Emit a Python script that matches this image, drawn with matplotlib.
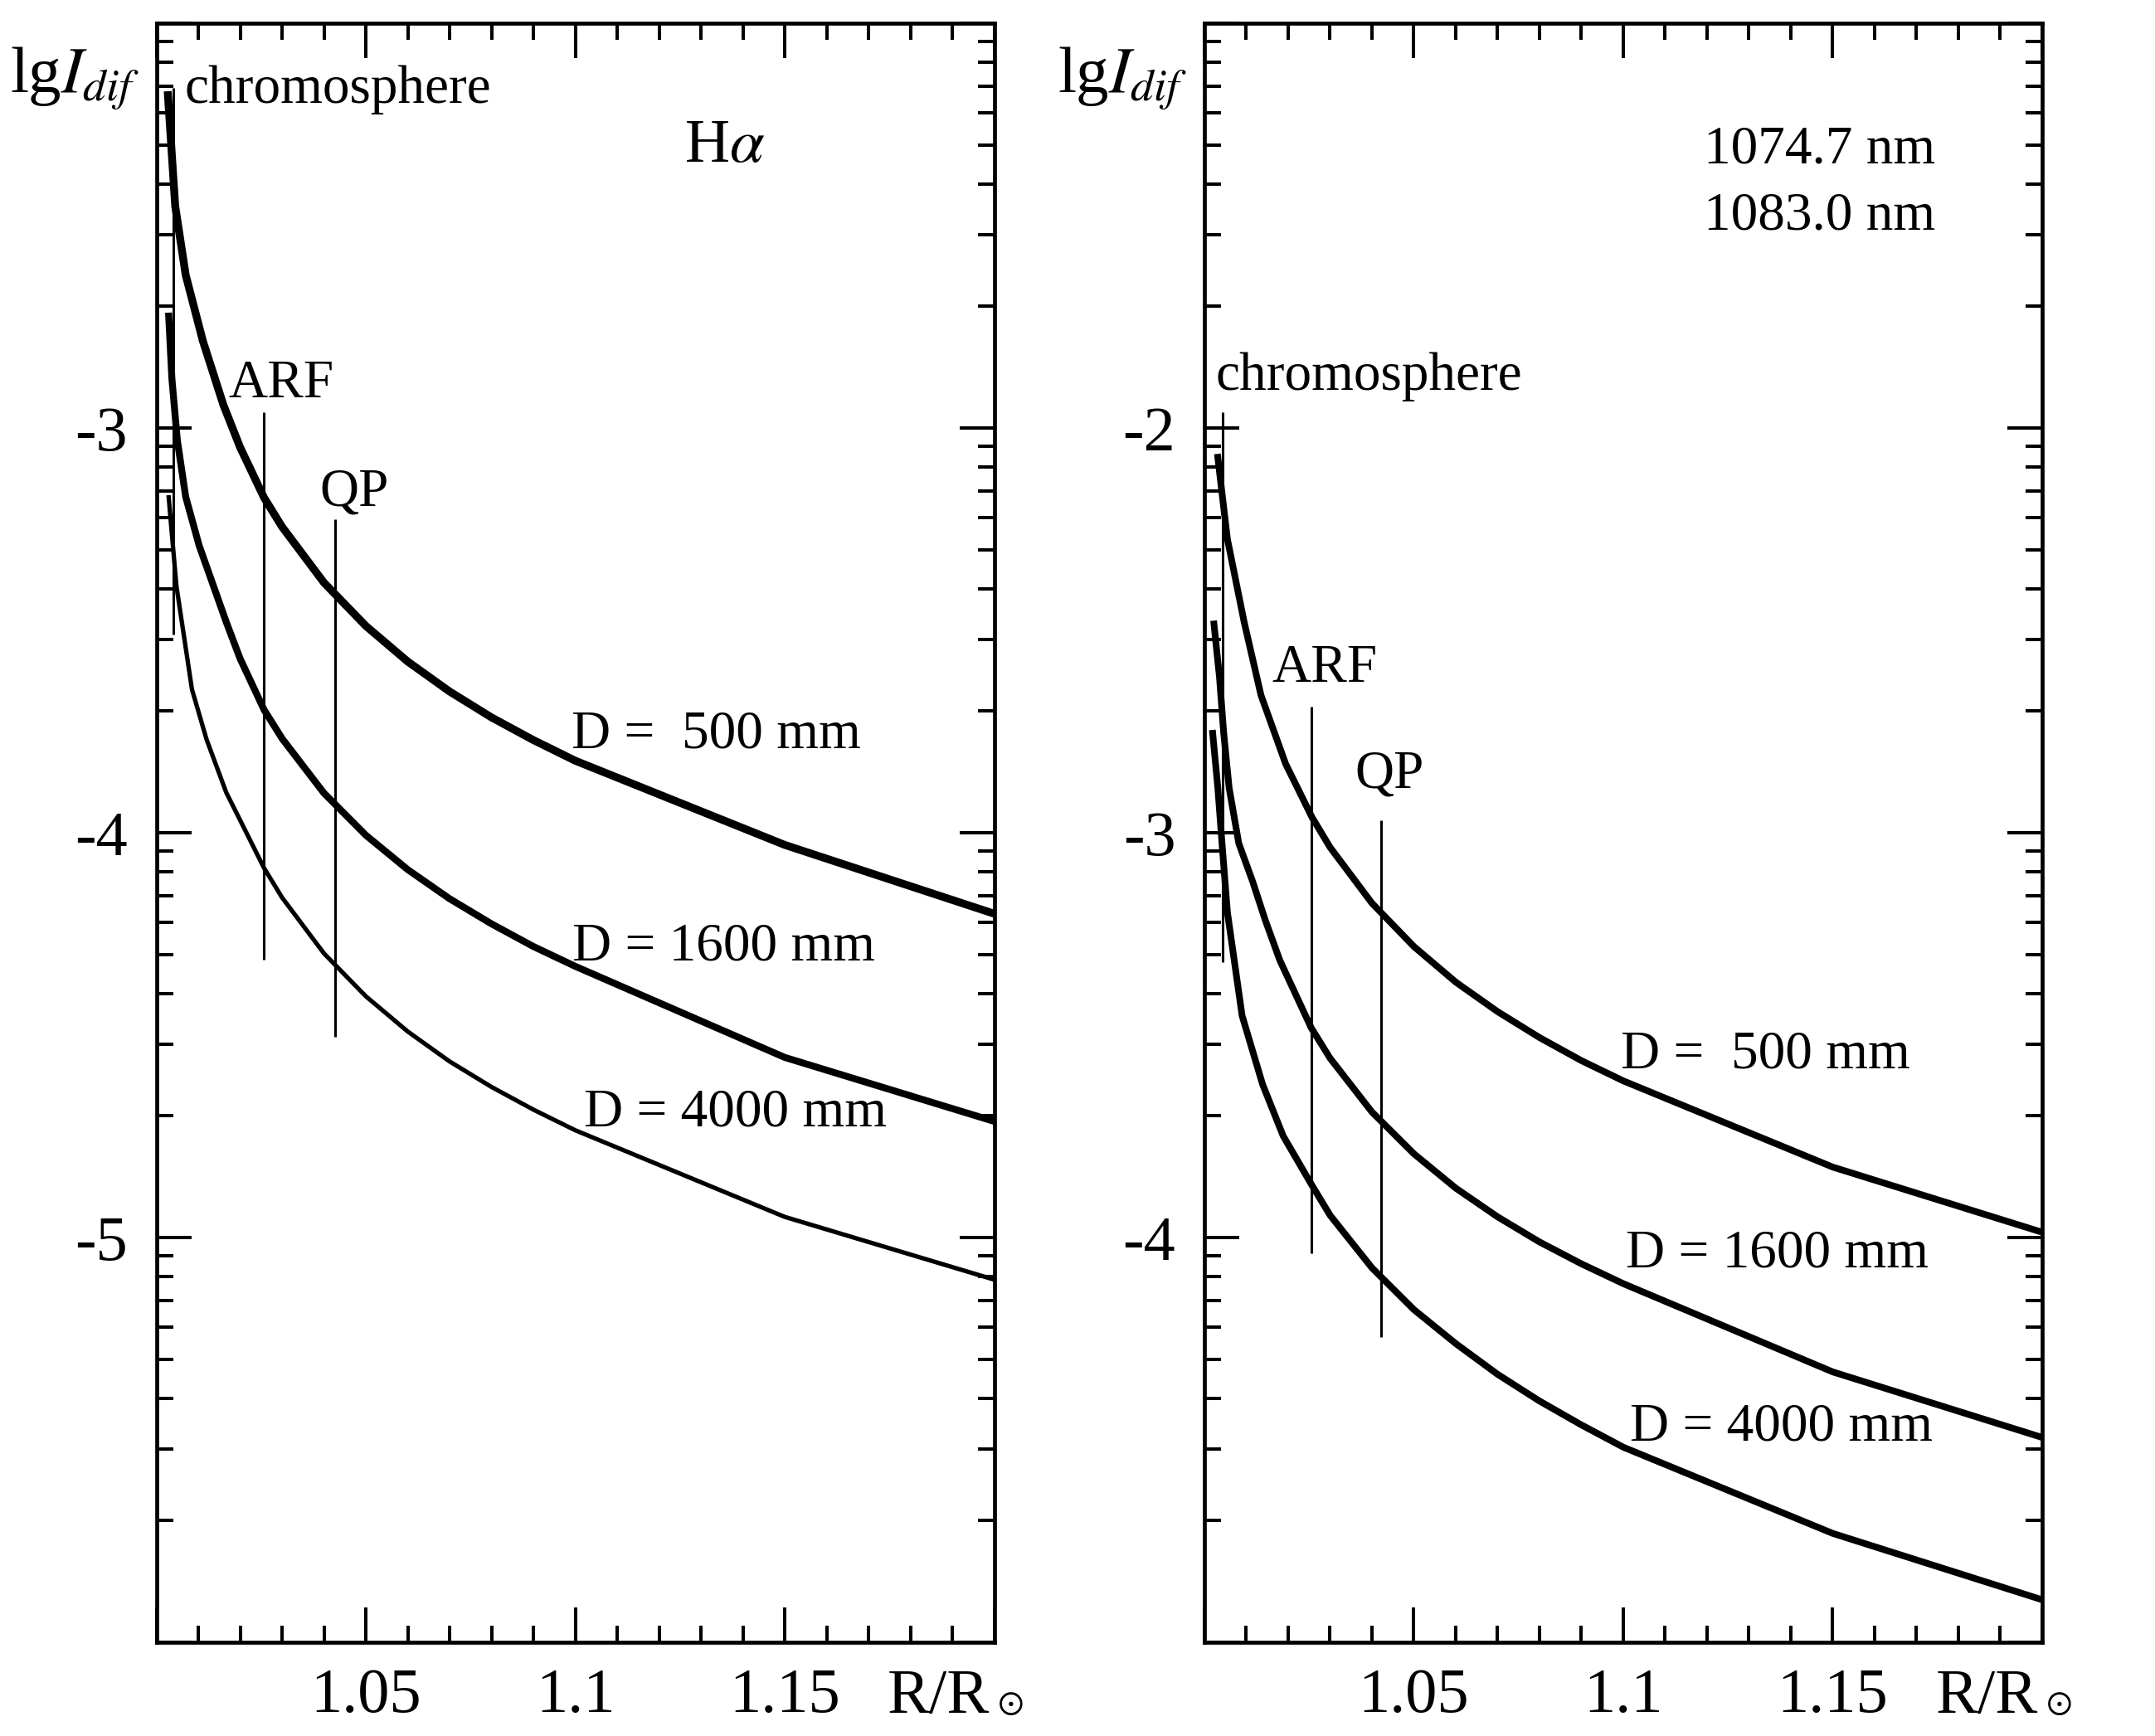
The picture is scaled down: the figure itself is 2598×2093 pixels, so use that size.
import numpy as np
import matplotlib
matplotlib.use('Agg')
import matplotlib.pyplot as plt
from matplotlib import rc
from matplotlib.ticker import LogLocator, MultipleLocator, NullFormatter

TICK_SIZE = 55
TEXT_SIZE = 47
LABEL_SIZE = 57
SERIF = 'Liberation Serif'

rc('font', family=[SERIF, 'DejaVu Serif'])
rc('mathtext', fontset='stix')

# --- H-alpha panel: lg I_dif vs R/Rsun ---
ha_r_500 = [1.0027, 1.0045, 1.0070, 1.0111, 1.0160, 1.0200, 1.0257, 1.030, 1.040, 1.050,
            1.060, 1.070, 1.080, 1.090, 1.100, 1.150, 1.200]
ha_lg_500 = [-2.168, -2.452, -2.622, -2.785, -2.943, -3.048, -3.172, -3.244, -3.382, -3.489,
             -3.577, -3.651, -3.715, -3.771, -3.822, -4.030, -4.200]
ha_r_1600 = [1.0029, 1.0037, 1.0050, 1.0070, 1.0102, 1.0167, 1.0200, 1.0257, 1.030, 1.040,
             1.050, 1.060, 1.070, 1.080, 1.090, 1.100, 1.150, 1.200]
ha_lg_1600 = [-2.715, -2.877, -3.030, -3.170, -3.290, -3.480, -3.570, -3.696, -3.767, -3.902,
              -4.006, -4.091, -4.163, -4.225, -4.281, -4.330, -4.555, -4.713]
ha_r_4000 = [1.0029, 1.0036, 1.0048, 1.0085, 1.0120, 1.0167, 1.0200, 1.0257, 1.030, 1.040,
             1.050, 1.060, 1.070, 1.080, 1.090, 1.100, 1.150, 1.200]
ha_lg_4000 = [-3.166, -3.250, -3.391, -3.646, -3.770, -3.901, -3.969, -4.087, -4.160, -4.298,
              -4.404, -4.491, -4.565, -4.628, -4.684, -4.735, -4.949, -5.104]

# --- 1074.7 / 1083.0 nm panel ---
ir_r_500 = [1.0031, 1.0055, 1.0095, 1.0135, 1.0194, 1.0257, 1.030, 1.040, 1.050, 1.060,
            1.070, 1.080, 1.090, 1.100, 1.150, 1.200]
ir_lg_500 = [-2.064, -2.275, -2.480, -2.660, -2.830, -2.962, -3.036, -3.174, -3.281, -3.369,
             -3.442, -3.506, -3.563, -3.613, -3.826, -3.987]
ir_r_1600 = [1.0022, 1.0036, 1.0046, 1.0059, 1.0082, 1.0115, 1.0145, 1.0180, 1.0255, 1.030,
             1.040, 1.050, 1.060, 1.070, 1.080, 1.090, 1.100, 1.150, 1.200]
ir_lg_1600 = [-2.476, -2.616, -2.753, -2.889, -3.026, -3.120, -3.215, -3.315, -3.482, -3.557,
              -3.690, -3.793, -3.878, -3.949, -4.011, -4.065, -4.114, -4.332, -4.494]
ir_r_4000 = [1.0019, 1.0032, 1.0042, 1.0055, 1.0090, 1.0139, 1.0188, 1.0255, 1.030, 1.040,
             1.050, 1.060, 1.070, 1.080, 1.090, 1.100, 1.150, 1.200]
ir_lg_4000 = [-2.746, -2.889, -3.026, -3.197, -3.452, -3.622, -3.749, -3.868, -3.945, -4.075,
              -4.178, -4.262, -4.338, -4.404, -4.463, -4.518, -4.731, -4.895]

# marker lines: (r, lg top, lg bottom)
ha_marks = {'chromosphere': (1.0041, -2.159, -3.51),
            'ARF': (1.0257, -2.962, -4.313),
            'QP': (1.0426, -3.225, -4.504)}
ir_marks = {'chromosphere': (1.0043, -1.961, -3.32),
            'ARF': (1.0256, -2.689, -4.038),
            'QP': (1.0421, -2.969, -4.246)}

x_ticks = [1.0, 1.05, 1.1, 1.15, 1.2]
x_labels = ['', '1.05', '1.1', '1.15', '']
ha_y_ticks = [-6, -5, -4, -3, -2]
ha_y_labels = ['', '-5', '-4', '-3', '']
ir_y_ticks = [-5, -4, -3, -2, -1]
ir_y_labels = ['', '-4', '-3', '-2', '']


def setup_axes(ax, y_ticks, y_labels):
    ax.set_yscale('log')
    ax.set_xlim(1.0, 1.2)
    ax.set_ylim(10.0 ** y_ticks[0], 10.0 ** y_ticks[-1])
    ax.set_xticks(x_ticks, x_labels)
    ax.xaxis.set_minor_locator(MultipleLocator(0.01))
    ax.set_yticks([10.0 ** t for t in y_ticks], y_labels)
    ax.yaxis.set_minor_locator(LogLocator(base=10, subs=np.arange(2, 10), numticks=20))
    ax.yaxis.set_minor_formatter(NullFormatter())
    ax.tick_params(which='both', direction='in', top=True, right=True, width=2.9, color='black')
    ax.tick_params(which='major', length=30)
    ax.tick_params(which='minor', length=14.5)
    ax.tick_params(axis='x', labelsize=TICK_SIZE, pad=22)
    ax.tick_params(axis='y', labelsize=TICK_SIZE, pad=25)
    for lab in ax.get_xticklabels() + ax.get_yticklabels():
        lab.set_fontfamily(SERIF)
    for sp in ax.spines.values():
        sp.set_linewidth(3.4)
    # lgI_dif label and R/Rsun
    ax.text(-0.1748, 0.957, r'lg$I_{dif}$', transform=ax.transAxes, fontsize=LABEL_SIZE,
            ha='left', va='baseline')
    ax.text(0.8728, -0.0433, 'R/R', transform=ax.transAxes, fontsize=TICK_SIZE,
            ha='left', va='baseline', family=SERIF)
    ax.text(1.0035, -0.0433, r'$\odot$', transform=ax.transAxes, fontsize=30,
            ha='left', va='baseline')


def txt(ax, x, lg, s, size=TEXT_SIZE):
    ax.text(x, 10.0 ** lg, s, fontsize=size, ha='left', va='baseline')


def draw_marks(ax, marks):
    for name, (r, top, bot) in marks.items():
        ax.plot([r, r], [10.0 ** top, 10.0 ** bot], color='black', lw=2.2, solid_capstyle='butt')


fig = plt.figure(figsize=(25.98, 20.93), dpi=100)
ax1 = fig.add_axes([0.07256, 0.05399, 0.38876, 0.93263])
ax2 = fig.add_axes([0.55889, 0.05399, 0.38876, 0.93263])

# left panel
ax1.plot(ha_r_500, 10.0 ** np.array(ha_lg_500), color='black', lw=6.8, solid_capstyle='butt')
ax1.plot(ha_r_1600, 10.0 ** np.array(ha_lg_1600), color='black', lw=6.0, solid_capstyle='butt')
ax1.plot(ha_r_4000, 10.0 ** np.array(ha_lg_4000), color='black', lw=3.8, solid_capstyle='butt')
draw_marks(ax1, ha_marks)
setup_axes(ax1, ha_y_ticks, ha_y_labels)
txt(ax1, 1.00675, -2.1975, 'chromosphere')
txt(ax1, 1.01727, -2.924, 'ARF')
txt(ax1, 1.03903, -3.1916, 'QP')
txt(ax1, 1.12604, -2.342, r'H$\alpha$', size=54)
txt(ax1, 1.09911, -3.789, 'D =  500 mm')
txt(ax1, 1.09923, -4.3146, 'D = 1600 mm')
txt(ax1, 1.10208, -4.7242, 'D = 4000 mm')

# right panel
ax2.plot(ir_r_500, 10.0 ** np.array(ir_lg_500), color='black', lw=5.8, solid_capstyle='butt')
ax2.plot(ir_r_1600, 10.0 ** np.array(ir_lg_1600), color='black', lw=5.8, solid_capstyle='butt')
ax2.plot(ir_r_4000, 10.0 ** np.array(ir_lg_4000), color='black', lw=5.8, solid_capstyle='butt')
draw_marks(ax2, ir_marks)
setup_axes(ax2, ir_y_ticks, ir_y_labels)
txt(ax2, 1.0027, -1.9057, 'chromosphere')
txt(ax2, 1.0162, -2.627, 'ARF')
txt(ax2, 1.0360, -2.8887, 'QP')
txt(ax2, 1.1192, -1.3463, '1074.7 nm')
txt(ax2, 1.1192, -1.5082, '1083.0 nm')
txt(ax2, 1.0994, -3.581, 'D =  500 mm')
txt(ax2, 1.1006, -4.073, 'D = 1600 mm')
txt(ax2, 1.1015, -4.5006, 'D = 4000 mm')

fig.savefig('out.png', dpi=100)
